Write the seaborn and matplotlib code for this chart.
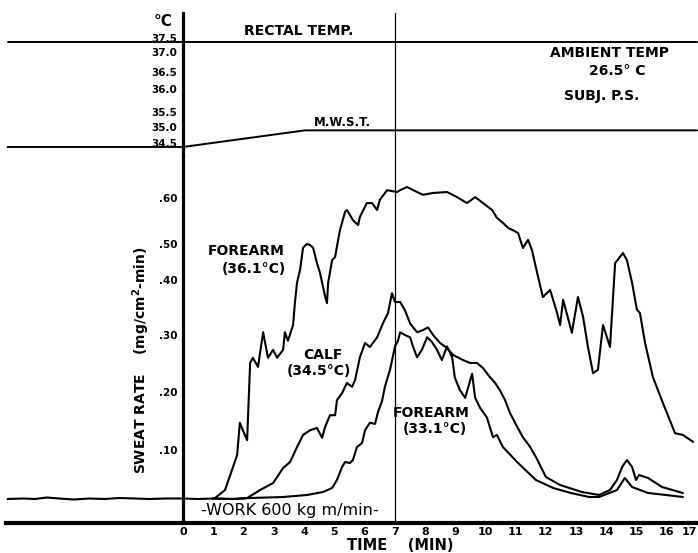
import numpy as np
import pandas as pd
import matplotlib
matplotlib.use("Agg")
import matplotlib.pyplot as plt
import seaborn as sns

# ---------------- data ----------------
# pre-work baseline (all three traces overlap)
base_t = [-5.8, -5.3, -4.9, -4.5, -4.1, -3.6, -3.1, -2.6, -2.1, -1.6, -1.1, -0.6, 0.0, 0.5, 1.0]
base_v = [0.002, 0.003, 0.002, 0.005, 0.003, 0.001, 0.003, 0.002, 0.004, 0.003, 0.002, 0.003, 0.003, 0.002, 0.003]

fa36_t = [1.0, 1.06, 1.39, 1.62, 1.79, 1.88, 1.98, 2.12, 2.22, 2.31, 2.48, 2.65, 2.81, 2.98, 3.11,
          3.31, 3.37, 3.47, 3.64, 3.70, 3.77, 3.87, 3.97, 4.10, 4.20, 4.30, 4.43, 4.53, 4.70,
          4.76, 4.80, 4.93, 5.03, 5.13, 5.19, 5.36, 5.42, 5.62, 5.79, 5.85, 6.08, 6.25, 6.42,
          6.51, 6.75, 7.08, 7.18, 7.41, 7.74, 7.94, 8.27, 8.73, 9.06, 9.39, 9.66, 9.92, 10.22,
          10.38, 10.58, 10.75, 10.91, 11.08, 11.24, 11.41, 11.54, 11.71, 11.90, 12.14, 12.37,
          12.47, 12.57, 12.86, 13.06, 13.23, 13.39, 13.56, 13.72, 13.89, 14.12, 14.29, 14.55,
          14.68, 14.85, 15.01, 15.11, 15.28, 15.54, 15.87, 16.27, 16.53, 16.87]
fa36_v = [0.003, 0.004, 0.02, 0.06, 0.09, 0.147, 0.134, 0.117, 0.251, 0.26, 0.244, 0.305, 0.26, 0.274, 0.26,
          0.274, 0.305, 0.29, 0.318, 0.358, 0.395, 0.428, 0.49, 0.50, 0.497, 0.49, 0.447, 0.42, 0.37,
          0.358, 0.395, 0.455, 0.464, 0.509, 0.53, 0.57, 0.574, 0.552, 0.541, 0.559, 0.589, 0.589, 0.574,
          0.596, 0.617, 0.613, 0.617, 0.624, 0.613, 0.607, 0.611, 0.613, 0.602, 0.589, 0.602, 0.589, 0.574,
          0.557, 0.546, 0.535, 0.53, 0.524, 0.489, 0.509, 0.483, 0.42, 0.369, 0.382, 0.340,
          0.318, 0.364, 0.304, 0.369, 0.333, 0.279, 0.233, 0.239, 0.318, 0.279, 0.447, 0.475,
          0.455, 0.395, 0.346, 0.340, 0.286, 0.226, 0.181, 0.129, 0.126, 0.114]

calf_t = [1.0, 1.6, 2.12, 2.55, 2.98, 3.31, 3.54, 3.77, 3.97, 4.20, 4.43, 4.60, 4.70, 4.86, 5.03, 5.09,
          5.26, 5.42, 5.59, 5.69, 5.85, 6.02, 6.18, 6.42, 6.61, 6.78, 6.91, 7.01, 7.18, 7.34, 7.51,
          7.74, 7.94, 8.10, 8.27, 8.50, 8.73, 8.93, 9.26, 9.49, 9.72, 9.92, 10.15, 10.32, 10.48,
          10.65, 10.81, 11.05, 11.24, 11.47, 11.67, 12.00, 12.47, 13.19, 13.76, 14.12, 14.35, 14.52,
          14.68, 14.85, 14.98, 15.08, 15.38, 15.84, 16.53]
calf_v = [0.003, 0.002, 0.004, 0.02, 0.034, 0.064, 0.076, 0.105, 0.126, 0.134, 0.138, 0.121, 0.140, 0.160, 0.160, 0.186,
          0.198, 0.216, 0.209, 0.221, 0.261, 0.286, 0.279, 0.296, 0.321, 0.340, 0.376, 0.360, 0.360, 0.345, 0.321,
          0.305, 0.309, 0.314, 0.300, 0.286, 0.277, 0.265, 0.256, 0.251, 0.251, 0.242, 0.226, 0.216, 0.203,
          0.186, 0.164, 0.140, 0.122, 0.106, 0.086, 0.046, 0.030, 0.016, 0.010, 0.020, 0.040, 0.066,
          0.080, 0.066, 0.040, 0.050, 0.044, 0.026, 0.014]

fa33_t = [1.0, 1.7, 2.22, 3.31, 4.10, 4.63, 4.93, 5.09, 5.26, 5.36, 5.52, 5.62, 5.75, 5.92, 6.02, 6.18,
          6.35, 6.45, 6.58, 6.68, 6.85, 7.01, 7.11, 7.18, 7.34, 7.51, 7.61, 7.74, 7.90, 8.07, 8.23,
          8.40, 8.56, 8.73, 8.90, 8.99, 9.16, 9.33, 9.56, 9.66, 9.82, 10.05, 10.25, 10.38, 10.58,
          11.08, 11.67, 12.24, 12.83, 13.43, 13.76, 14.35, 14.61, 14.85, 15.38, 15.97, 16.53]
fa33_v = [0.003, 0.002, 0.004, 0.006, 0.010, 0.016, 0.024, 0.040, 0.066, 0.076, 0.074, 0.080, 0.105, 0.112, 0.134, 0.147,
          0.145, 0.166, 0.184, 0.21, 0.24, 0.28, 0.29, 0.305, 0.300, 0.296, 0.279, 0.261, 0.274, 0.296, 0.288,
          0.274, 0.256, 0.28, 0.261, 0.225, 0.203, 0.190, 0.232, 0.19, 0.173, 0.156, 0.122, 0.126, 0.105,
          0.074, 0.040, 0.024, 0.014, 0.006, 0.006, 0.020, 0.044, 0.026, 0.014, 0.010, 0.006]

# temperatures (deg C)
rect_t = [-5.8, 17.0]
rect_v = [37.34, 37.34]
mwst_t = [-5.8, 0.0, 4.03, 17.0]
mwst_v = [34.39, 34.39, 34.89, 34.89]

x_ticks = list(range(0, 18))
sweat_ticks = [0.10, 0.20, 0.30, 0.40, 0.50, 0.60]
sweat_labels = [".10", ".20", ".30", ".40", ".50", ".60"]
temp_ticks = [34.5, 35.0, 35.5, 36.0, 36.5, 37.0, 37.5]
temp_labels = ["34.5", "35.0", "35.5", "36.0", "36.5", "37.0", "37.5"]

# hand-drawn (non uniform) axis graduations of the original
sweat_grad_v = np.array([-1.0, 0.0, 0.1, 0.2, 0.3, 0.4, 0.5, 0.6, 1.6])
sweat_grad_p = -np.array([1000.0, 500, 450, 392, 335, 280, 244, 198, -262])
temp_grad_v = np.array([30.0, 34.5, 35.0, 35.5, 36.0, 36.5, 37.0, 37.5, 40.0])
temp_grad_p = -np.array([292.7, 143.3, 126.7, 111.7, 89.3, 71.7, 52.3, 37.7, -35.3])

# ---------------- figure ----------------
sns.set_theme(style="white")
plt.rcParams["font.family"] = ["DejaVu Sans"]
plt.rcParams["font.weight"] = "bold"

W, H = 698, 553
fig = plt.figure(figsize=(W / 100, H / 100), dpi=100)
fig.patch.set_facecolor("white")

ax_s = fig.add_axes([6 / W, 1 - 523 / H, 692 / W, (523 - 155) / H])
ax_t = fig.add_axes([6 / W, 1 - 155 / H, 692 / W, (155 - 13) / H])
xlim = (-5.853, 17.03)

# sweat traces
frames = []
for name, tt, vv in [("base", base_t, base_v), ("fa36", fa36_t, fa36_v),
                     ("calf", calf_t, calf_v), ("fa33", fa33_t, fa33_v)]:
    frames.append(pd.DataFrame({"t": tt, "v": vv, "trace": name}))
df = pd.concat(frames, ignore_index=True)
sns.lineplot(data=df, x="t", y="v", hue="trace", units="trace", estimator=None,
             palette=["black"] * 4, legend=False, linewidth=1.5, ax=ax_s, sort=True)

ax_s.set_yscale("function",
                functions=(lambda v: np.interp(v, sweat_grad_v, sweat_grad_p),
                           lambda u: np.interp(u, sweat_grad_p, sweat_grad_v)))
ax_s.set_xlim(*xlim)
ax_s.set_ylim(-0.046, 0.6935)
ax_s.set_yticks(sweat_ticks)
ax_s.set_yticklabels(sweat_labels)
ax_s.yaxis.set_minor_locator(matplotlib.ticker.NullLocator())
ax_s.set_xticks(x_ticks)
ax_s.set_xticklabels([str(i) for i in x_ticks])
ax_s.get_xticklabels()[-1].set_horizontalalignment("right")
ax_s.set_xlabel("")
ax_s.set_ylabel("")
for s in ["top", "right"]:
    ax_s.spines[s].set_visible(False)
ax_s.spines["left"].set_position(("data", 0))
ax_s.spines["left"].set_linewidth(2.3)
ax_s.spines["bottom"].set_linewidth(3.0)
for s in ["left", "bottom"]:
    ax_s.spines[s].set_color("black")
ax_s.tick_params(axis="y", direction="out", length=3, width=1, pad=1, labelsize=7.5, colors="black")
ax_s.tick_params(axis="x", length=0, pad=3, labelsize=8, colors="black")
ax_s.axvline(7, color="black", lw=0.9)

# temperature traces
dft = pd.concat([pd.DataFrame({"t": rect_t, "v": rect_v, "trace": "rect"}),
                 pd.DataFrame({"t": mwst_t, "v": mwst_v, "trace": "mwst"})], ignore_index=True)
sns.lineplot(data=dft, x="t", y="v", hue="trace", units="trace", estimator=None,
             palette=["black"] * 2, legend=False, linewidth=1.4, ax=ax_t, sort=True)
ax_t.set_yscale("function",
                functions=(lambda v: np.interp(v, temp_grad_v, temp_grad_p),
                           lambda u: np.interp(u, temp_grad_p, temp_grad_v)))
ax_t.set_xlim(*xlim)
ax_t.set_ylim(34.148, 38.346)
ax_t.set_yticks(temp_ticks)
ax_t.set_yticklabels(temp_labels)
ax_t.yaxis.set_minor_locator(matplotlib.ticker.NullLocator())
ax_t.set_xticks([])
ax_t.set_xlabel("")
ax_t.set_ylabel("")
for s in ["top", "right", "bottom"]:
    ax_t.spines[s].set_visible(False)
ax_t.spines["left"].set_position(("data", 0))
ax_t.spines["left"].set_linewidth(2.3)
ax_t.spines["left"].set_color("black")
ax_t.tick_params(axis="y", direction="out", length=3, width=1, pad=1, labelsize=7.5, colors="black")
ax_t.axvline(7, color="black", lw=0.9)
ax_t.patch.set_alpha(0)
ax_s.patch.set_alpha(0)


def ftext(px, py, s, size=10, weight="bold", **kw):
    fig.text(px / W, 1 - py / H, s, fontsize=size, fontweight=weight,
             ha=kw.pop("ha", "center"), va=kw.pop("va", "center"), color="black", **kw)


ftext(163, 21, "°C", size=11)
ftext(299, 31, "RECTAL TEMP.", size=10)
ftext(342, 123, "M.W.S.T.", size=8.5)
ftext(609, 53, "AMBIENT TEMP", size=10)
ftext(617, 71, "26.5° C", size=10)
ftext(602, 96, "SUBJ. P.S.", size=10)

ftext(246, 251, "FOREARM", size=10)
ftext(254, 269, "(36.1°C)", size=10)
ftext(323, 355, "CALF", size=10)
ftext(319, 371, "(34.5°C)", size=10)
ftext(431, 413, "FOREARM", size=10)
ftext(435, 429, "(33.1°C)", size=10)

ftext(290, 510, "-WORK 600 kg m/min-", size=11.5, weight="normal")

ftext(141, 360, "SWEAT RATE    (mg/cm$^2$-min)", size=10, rotation=90)
ftext(400, 545, "TIME    (MIN)", size=10.5)

fig.savefig("out.png", dpi=100, facecolor="white")
